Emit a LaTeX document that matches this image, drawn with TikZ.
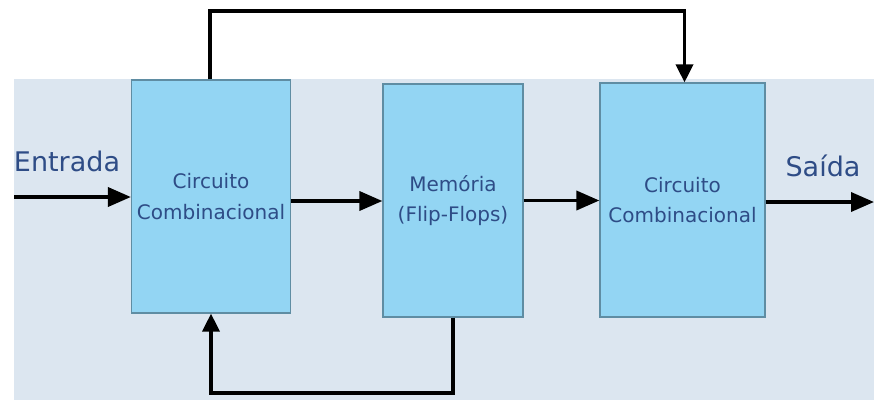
\documentclass[tikz,border=0pt]{standalone}
\usepackage{fontspec}
\setmainfont{DejaVu Sans}
\usetikzlibrary{arrows.meta}
\definecolor{panel}{HTML}{DCE6F0}
\definecolor{boxfill}{HTML}{93D5F3}
\definecolor{boxline}{HTML}{5F8DA3}
\definecolor{txt}{HTML}{2E4C86}
\tikzset{
  blk/.style={draw=boxline, line width=1.2pt, fill=boxfill, text=txt, align=center,
    font=\fontsize{20}{30.5}\selectfont, inner sep=0pt},
  lbl/.style={text=txt, font=\fontsize{27}{30}\selectfont, inner sep=0pt},
  conn/.style={line width=3.6pt, -{Triangle[length=23pt,width=19pt]}},
  fb/.style={line width=3.6pt, -{Triangle[length=18pt,width=17pt]}}
}
\begin{document}
\begin{tikzpicture}[x=1pt,y=-1pt]
\useasboundingbox (0,0) rectangle (874,400);
\fill[white] (0,0) rectangle (874,400);
\fill[panel] (14,79) rectangle (874,400);
\node[blk, minimum width=159pt, minimum height=233pt] (b1) at (211,196.5) {Circuito\\Combinacional};
\node[blk, minimum width=140pt, minimum height=233pt] (b2) at (453,200.5) {Memória\\(Flip-Flops)};
\node[blk, minimum width=165pt, minimum height=234pt] (b3) at (682.5,200) {Circuito\\Combinacional};
\node[lbl] (in) at (67,161) {Entrada};
\node[lbl] (out) at (823,166) {Saída};
\coordinate (inL) at (14,197);
\coordinate (outR) at (874,202);
\draw[conn] (inL) -- (inL -| b1.west);
\draw[conn] ([yshift=-4.5pt]b1.east) -- ([yshift=-4.5pt]b1.east -| b2.west);
\draw[conn] (b2.east) -- (b2.east -| b3.west);
\draw[conn] ([yshift=-2pt]b3.east) -- ([yshift=-2pt]b3.east -| outR);
\draw[fb] ([xshift=-1pt]b1.north) |- (400,11) -| ([xshift=2pt]b3.north);
\draw[fb] (b2.south) |- (300,393) -| (b1.south);
\end{tikzpicture}
\end{document}
